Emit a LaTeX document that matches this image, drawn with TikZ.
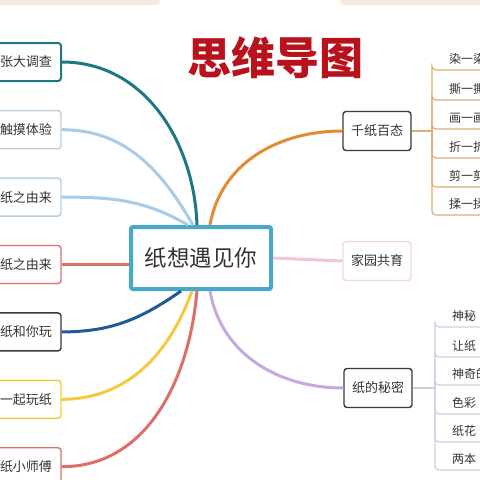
\documentclass[tikz,border=0pt]{standalone}
\usepackage{fontspec}
\setmainfont{Noto Sans CJK SC}
\usepackage{xcolor}
\usetikzlibrary{positioning}

\definecolor{tealline}{HTML}{1E7884}
\definecolor{skyline}{HTML}{A9CBE6}
\definecolor{skyedge}{HTML}{B9CFE0}
\definecolor{redline}{HTML}{DD6F66}
\definecolor{navyline}{HTML}{1F5A96}
\definecolor{yellowline}{HTML}{F4C93E}
\definecolor{hubedge}{HTML}{47A9C9}
\definecolor{orangeline}{HTML}{E38A35}
\definecolor{pinkline}{HTML}{F0C6CF}
\definecolor{purpleline}{HTML}{C6A8E2}
\definecolor{tanline}{HTML}{DDAE78}
\definecolor{lilacline}{HTML}{D9C9E3}
\definecolor{darkedge}{HTML}{3A3A3A}
\definecolor{titlered}{HTML}{B8121C}
\definecolor{inktext}{HTML}{333333}
\definecolor{bandbeige}{HTML}{F6EADF}

\begin{document}
\begin{tikzpicture}[
  x=1pt, y=-1pt,
  node distance=28pt,
  leaf/.style={rectangle, rounded corners=3pt, fill=white, line width=1.4pt,
               text width=70pt, align=right, minimum height=38pt,
               inner xsep=9pt, font=\fontsize{13}{13}\selectfont, text=inktext},
  topic/.style={rectangle, rounded corners=3pt, fill=white, line width=1.4pt,
                minimum height=39pt, inner xsep=8pt,
                font=\fontsize{13}{13}\selectfont, text=inktext},
  hub/.style={rectangle, rounded corners=2pt, fill=white, draw=hubedge,
              line width=4pt, minimum width=140pt, minimum height=62pt,
              font=\fontsize{22.5}{22.5}\selectfont, text=inktext},
  sub/.style={anchor=south west, text width=60pt, align=left,
              inner xsep=17pt, inner ysep=5pt,
              font=\fontsize{12}{12}\selectfont, text=inktext},
  branch/.style={line width=3pt},
  twig/.style={line width=1.2pt, rounded corners=4pt}
]
\useasboundingbox (0,0) rectangle (480,480);
\clip (0,0) rectangle (480,480);

% Top band
\fill[bandbeige, rounded corners=4pt] (-10,-10) rectangle (160,5);
\fill[bandbeige, rounded corners=4pt] (340,-10) rectangle (490,5);

% Title
\node[font=\fontsize{44}{44}\selectfont\bfseries, text=titlered] (title) at (275,58) {思维导图};

% Central topic
\node[hub] (hub) at (201,258) {纸想遇见你};

% Left column
\node[leaf, draw=tealline, line width=2pt, anchor=east] (l1) at (62,62) {张大调查};
\node[leaf, draw=skyedge, below=of l1] (l2) {触摸体验};
\node[leaf, draw=skyedge, below=of l2] (l3) {纸之由来};
\node[leaf, draw=redline, below=of l3] (l4) {纸之由来};
\node[leaf, draw=darkedge, below=of l4] (l5) {纸和你玩};
\node[leaf, draw=yellowline, below=of l5] (l6) {一起玩纸};
\node[leaf, draw=redline, below=of l6] (l7) {纸小师傅};

% Right column
\node[topic, draw=darkedge] (craft) at (377,131) {千纸百态};
\node[topic, draw=pinkline!70] (home) at (377,261) {家园共育};
\node[topic, draw=darkedge] (secret) at (378,388) {纸的秘密};

% Left branches
\draw[branch, tealline]    (l1.east) to[out=0, in=92]  ([xshift=-4pt]hub.north);
\draw[branch, skyline]     (l2.east) to[out=0, in=120] ([xshift=-8pt]hub.north);
\draw[branch, skyline]     (l3.east) to[out=0, in=150] ([xshift=-13pt]hub.north);
\draw[branch, redline]     (l4.east) -- (l4.east -| hub.west);
\draw[branch, navyline]    (l5.east) to[out=0, in=-145] ([xshift=-20pt]hub.south);
\draw[branch, yellowline]  (l6.east) to[out=0, in=-110] ([xshift=-9pt]hub.south);
\draw[branch, redline]     (l7.east) to[out=0, in=-95]  ([xshift=-4pt]hub.south);

% Right branches
\draw[branch, orangeline]  ([xshift=9pt]hub.north) to[out=80, in=180] (craft.west);
\draw[branch, pinkline]    (hub.east) -- (home.west);
\draw[branch, purpleline]  ([xshift=9pt]hub.south) to[out=-80, in=180] (secret.west);

% Sub items of craft
\coordinate (cj) at (432,131);
\draw[twig, tanline] (craft.east) -- (cj);
\foreach \name/\txt/\yy in {c1/染一染/70, c2/撕一撕/100, c3/画一画/129,
                            c4/折一折/158, c5/剪一剪/187, c6/揉一揉/215} {
  \node[sub] (\name) at (432,\yy) {\txt};
  \draw[twig, tanline] (cj) |- (\name.south west) -- (\name.south east);
}

% Sub items of secret
\coordinate (sj) at (435,388);
\draw[twig, lilacline] (secret.east) -- (sj);
\foreach \name/\txt/\yy in {s1/神秘/327, s2/让纸/357, s3/神奇的/385,
                            s4/色彩/414, s5/纸花/442, s6/两本/470} {
  \node[sub] (\name) at (435,\yy) {\txt};
  \draw[twig, lilacline] (sj) |- (\name.south west) -- (\name.south east);
}

\end{tikzpicture}
\end{document}
